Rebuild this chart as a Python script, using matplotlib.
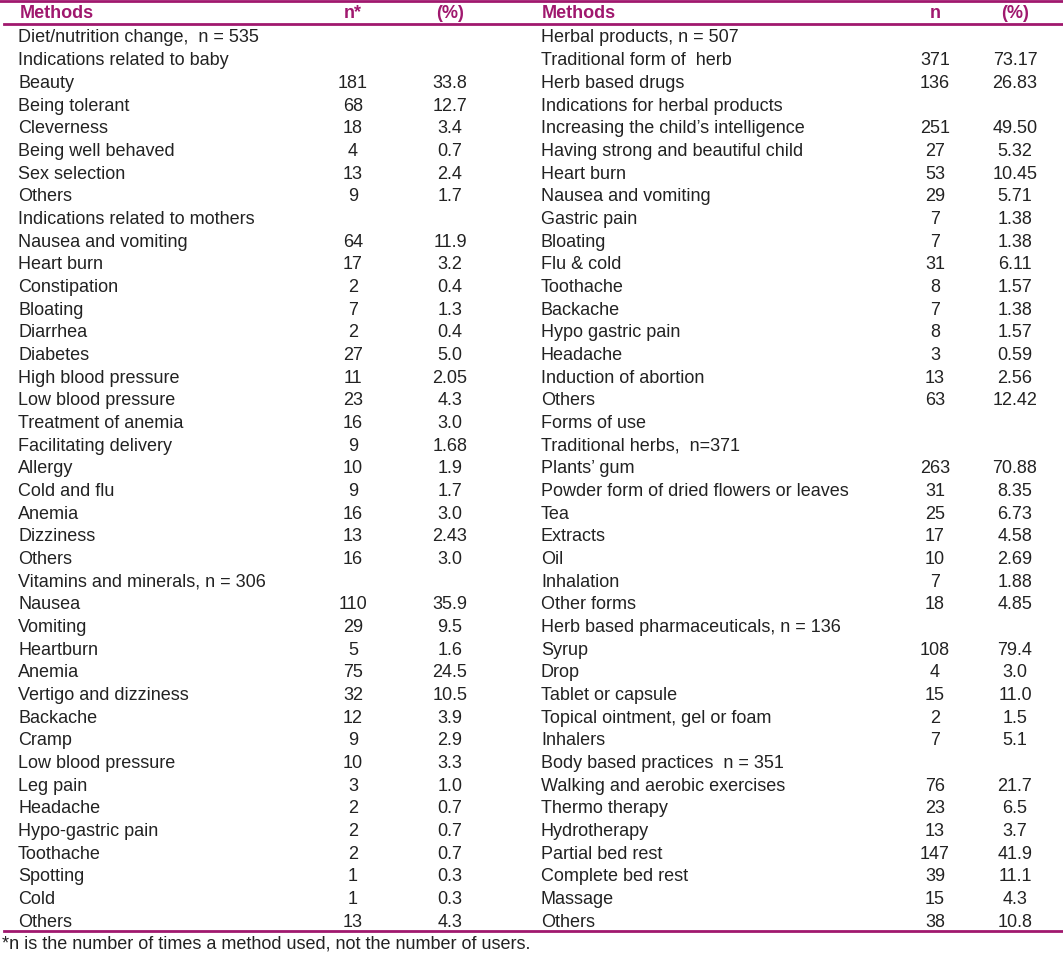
import matplotlib.pyplot as plt

plt.rcParams['font.family'] = ['Liberation Sans', 'DejaVu Sans']

# Left half of the table
left_methods = [
    "Diet/nutrition change,  n = 535", "Indications related to baby",
    "Beauty", "Being tolerant", "Cleverness", "Being well behaved", "Sex selection", "Others",
    "Indications related to mothers",
    "Nausea and vomiting", "Heart burn", "Constipation", "Bloating", "Diarrhea", "Diabetes",
    "High blood pressure", "Low blood pressure", "Treatment of anemia", "Facilitating delivery",
    "Allergy", "Cold and flu", "Anemia", "Dizziness", "Others",
    "Vitamins and minerals, n = 306",
    "Nausea", "Vomiting", "Heartburn", "Anemia", "Vertigo and dizziness", "Backache", "Cramp",
    "Low blood pressure", "Leg pain", "Headache", "Hypo-gastric pain", "Toothache", "Spotting",
    "Cold", "Others",
]
left_n = ["", "", "181", "68", "18", "4", "13", "9", "", "64", "17", "2", "7", "2", "27",
          "11", "23", "16", "9", "10", "9", "16", "13", "16", "", "110", "29", "5", "75",
          "32", "12", "9", "10", "3", "2", "2", "2", "1", "1", "13"]
left_pct = ["", "", "33.8", "12.7", "3.4", "0.7", "2.4", "1.7", "", "11.9", "3.2", "0.4",
            "1.3", "0.4", "5.0", "2.05", "4.3", "3.0", "1.68", "1.9", "1.7", "3.0", "2.43",
            "3.0", "", "35.9", "9.5", "1.6", "24.5", "10.5", "3.9", "2.9", "3.3", "1.0",
            "0.7", "0.7", "0.7", "0.3", "0.3", "4.3"]

# Right half of the table
right_methods = [
    "Herbal products, n = 507", "Traditional form of  herb", "Herb based drugs",
    "Indications for herbal products",
    "Increasing the child\u2019s intelligence", "Having strong and beautiful child", "Heart burn",
    "Nausea and vomiting", "Gastric pain", "Bloating", "Flu & cold", "Toothache", "Backache",
    "Hypo gastric pain", "Headache", "Induction of abortion", "Others",
    "Forms of use", "Traditional herbs,  n=371",
    "Plants\u2019 gum", "Powder form of dried flowers or leaves", "Tea", "Extracts", "Oil",
    "Inhalation", "Other forms",
    "Herb based pharmaceuticals, n = 136",
    "Syrup", "Drop", "Tablet or capsule", "Topical ointment, gel or foam", "Inhalers",
    "Body based practices  n = 351",
    "Walking and aerobic exercises", "Thermo therapy", "Hydrotherapy", "Partial bed rest",
    "Complete bed rest", "Massage", "Others",
]
right_n = ["", "371", "136", "", "251", "27", "53", "29", "7", "7", "31", "8", "7", "8", "3",
           "13", "63", "", "", "263", "31", "25", "17", "10", "7", "18", "", "108", "4", "15",
           "2", "7", "", "76", "23", "13", "147", "39", "15", "38"]
right_pct = ["", "73.17", "26.83", "", "49.50", "5.32", "10.45", "5.71", "1.38", "1.38",
             "6.11", "1.57", "1.38", "1.57", "0.59", "2.56", "12.42", "", "", "70.88", "8.35",
             "6.73", "4.58", "2.69", "1.88", "4.85", "", "79.4", "3.0", "11.0", "1.5", "5.1",
             "", "21.7", "6.5", "3.7", "41.9", "11.1", "4.3", "10.8"]

footnote = "*n is the number of times a method used, not the number of users."

accent = "#a0186e"
W, H = 1063, 955

fig = plt.figure(figsize=(W / 100, H / 100), dpi=100)
ax = fig.add_axes([0, 0, 1, 1])
ax.set_xlim(0, W)
ax.set_ylim(H, 0)
ax.axis("off")

# rules
ax.plot([0, W], [1.5, 1.5], color=accent, lw=2)
ax.plot([4, W], [24.5, 24.5], color=accent, lw=2)
ax.plot([4, W], [930.5, 930.5], color=accent, lw=2)

hdr = dict(color=accent, fontsize=13, fontweight="bold", va="center")
ax.text(20, 13.5, "Methods", ha="left", **hdr)
ax.text(353, 13.5, "n*", ha="center", **hdr)
ax.text(450, 13.5, "(%)", ha="center", **hdr)
ax.text(542, 13.5, "Methods", ha="left", **hdr)
ax.text(935, 13.5, "n", ha="center", **hdr)
ax.text(1015, 13.5, "(%)", ha="center", **hdr)

body = dict(color="#222222", fontsize=13, va="center")
y0, dy = 38, 22.67
for i in range(len(left_methods)):
    y = y0 + i * dy
    ax.text(18, y, left_methods[i], ha="left", **body)
    ax.text(353, y, left_n[i], ha="center", **body)
    ax.text(450, y, left_pct[i], ha="center", **body)
for i in range(len(right_methods)):
    y = y0 + i * dy
    ax.text(541, y, right_methods[i], ha="left", **body)
    ax.text(935, y, right_n[i], ha="center", **body)
    ax.text(1015, y, right_pct[i], ha="center", **body)

ax.text(2, 944, footnote, ha="left", va="center", color="#222222", fontsize=13)

fig.savefig("out.png", dpi=100)
